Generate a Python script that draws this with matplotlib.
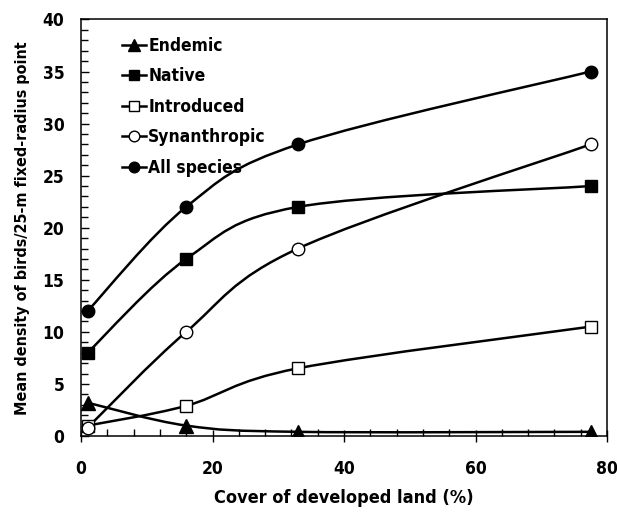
import matplotlib
matplotlib.use('Agg')
import matplotlib.pyplot as plt
from matplotlib.path import Path
from matplotlib.patches import PathPatch
from matplotlib.lines import Line2D
from matplotlib.ticker import MultipleLocator

cover = [1, 16, 33, 77.5]
endemic = [3.2, 1.0, 0.4, 0.4]
native = [8, 17, 22, 24]
introduced = [1.0, 2.9, 6.5, 10.5]
synanthropic = [0.8, 10, 18, 28]
all_species = [12, 22, 28, 35]

series = [
    ('Endemic', endemic, '^', 'black'),
    ('Native', native, 's', 'black'),
    ('Introduced', introduced, 's', 'white'),
    ('Synanthropic', synanthropic, 'o', 'white'),
    ('All species', all_species, 'o', 'black'),
]
msize = {'^': 10, 's': 8, 'o': 9}

plt.rcParams['font.family'] = ['DejaVu Sans']
plt.rcParams['font.stretch'] = 'condensed'
plt.rcParams['font.weight'] = 'bold'


def smooth_path(xs, ys):
    # excel-style smoothed line: cubic bezier with catmull-rom control points
    pts = list(zip(xs, ys))
    n = len(pts)
    verts = [pts[0]]
    codes = [Path.MOVETO]
    for i in range(n - 1):
        p0 = pts[max(i - 1, 0)]
        p1 = pts[i]
        p2 = pts[i + 1]
        p3 = pts[min(i + 2, n - 1)]
        c1 = (p1[0] + (p2[0] - p0[0]) / 6, p1[1] + (p2[1] - p0[1]) / 6)
        c2 = (p2[0] - (p3[0] - p1[0]) / 6, p2[1] - (p3[1] - p1[1]) / 6)
        verts += [c1, c2, p2]
        codes += [Path.CURVE4] * 3
    return Path(verts, codes)


fig = plt.figure(figsize=(6.17, 5.13), dpi=100)
ax = fig.add_axes([0.1313, 0.1501, 0.8525, 0.812])

handles = []
for name, vals, mk, fc in series:
    ax.add_patch(PathPatch(smooth_path(cover, vals), fill=False, lw=1.8, ec='black', zorder=2))
    ax.plot(cover, vals, ls='none', marker=mk, ms=msize[mk], mfc=fc, mec='black', mew=1.0, zorder=3)
    handles.append(Line2D([], [], color='black', lw=1.8, marker=mk, ms=msize[mk] * 0.85,
                          mfc=fc, mec='black', mew=1.0))

ax.set_xlim(0, 80)
ax.set_ylim(0, 40)
ax.xaxis.set_major_locator(MultipleLocator(20))
ax.xaxis.set_minor_locator(MultipleLocator(4))
ax.yaxis.set_major_locator(MultipleLocator(5))
ax.yaxis.set_minor_locator(MultipleLocator(1))
ax.tick_params(which='major', direction='in', length=6, width=1, labelsize=12.5)
ax.tick_params(axis='x', which='major', direction='inout', length=8)
ax.tick_params(which='minor', direction='in', length=5, width=1)
ax.tick_params(axis='x', which='major', pad=13)
ax.tick_params(axis='y', which='major', pad=12)
for s in ax.spines.values():
    s.set_linewidth(1.1)

ax.set_xlabel('Cover of developed land (%)', fontsize=13, fontweight='bold', labelpad=8)
ax.set_ylabel('Mean density of birds/25-m fixed-radius point', fontsize=11.5, fontweight='bold', labelpad=9)

ax.legend(handles, [s[0] for s in series], loc='upper left', bbox_to_anchor=(0.065, 0.975),
          frameon=False, fontsize=12.5, handlelength=1.4, handletextpad=0.1, labelspacing=0.72,
          borderaxespad=0)

fig.savefig('out.png', dpi=100)
